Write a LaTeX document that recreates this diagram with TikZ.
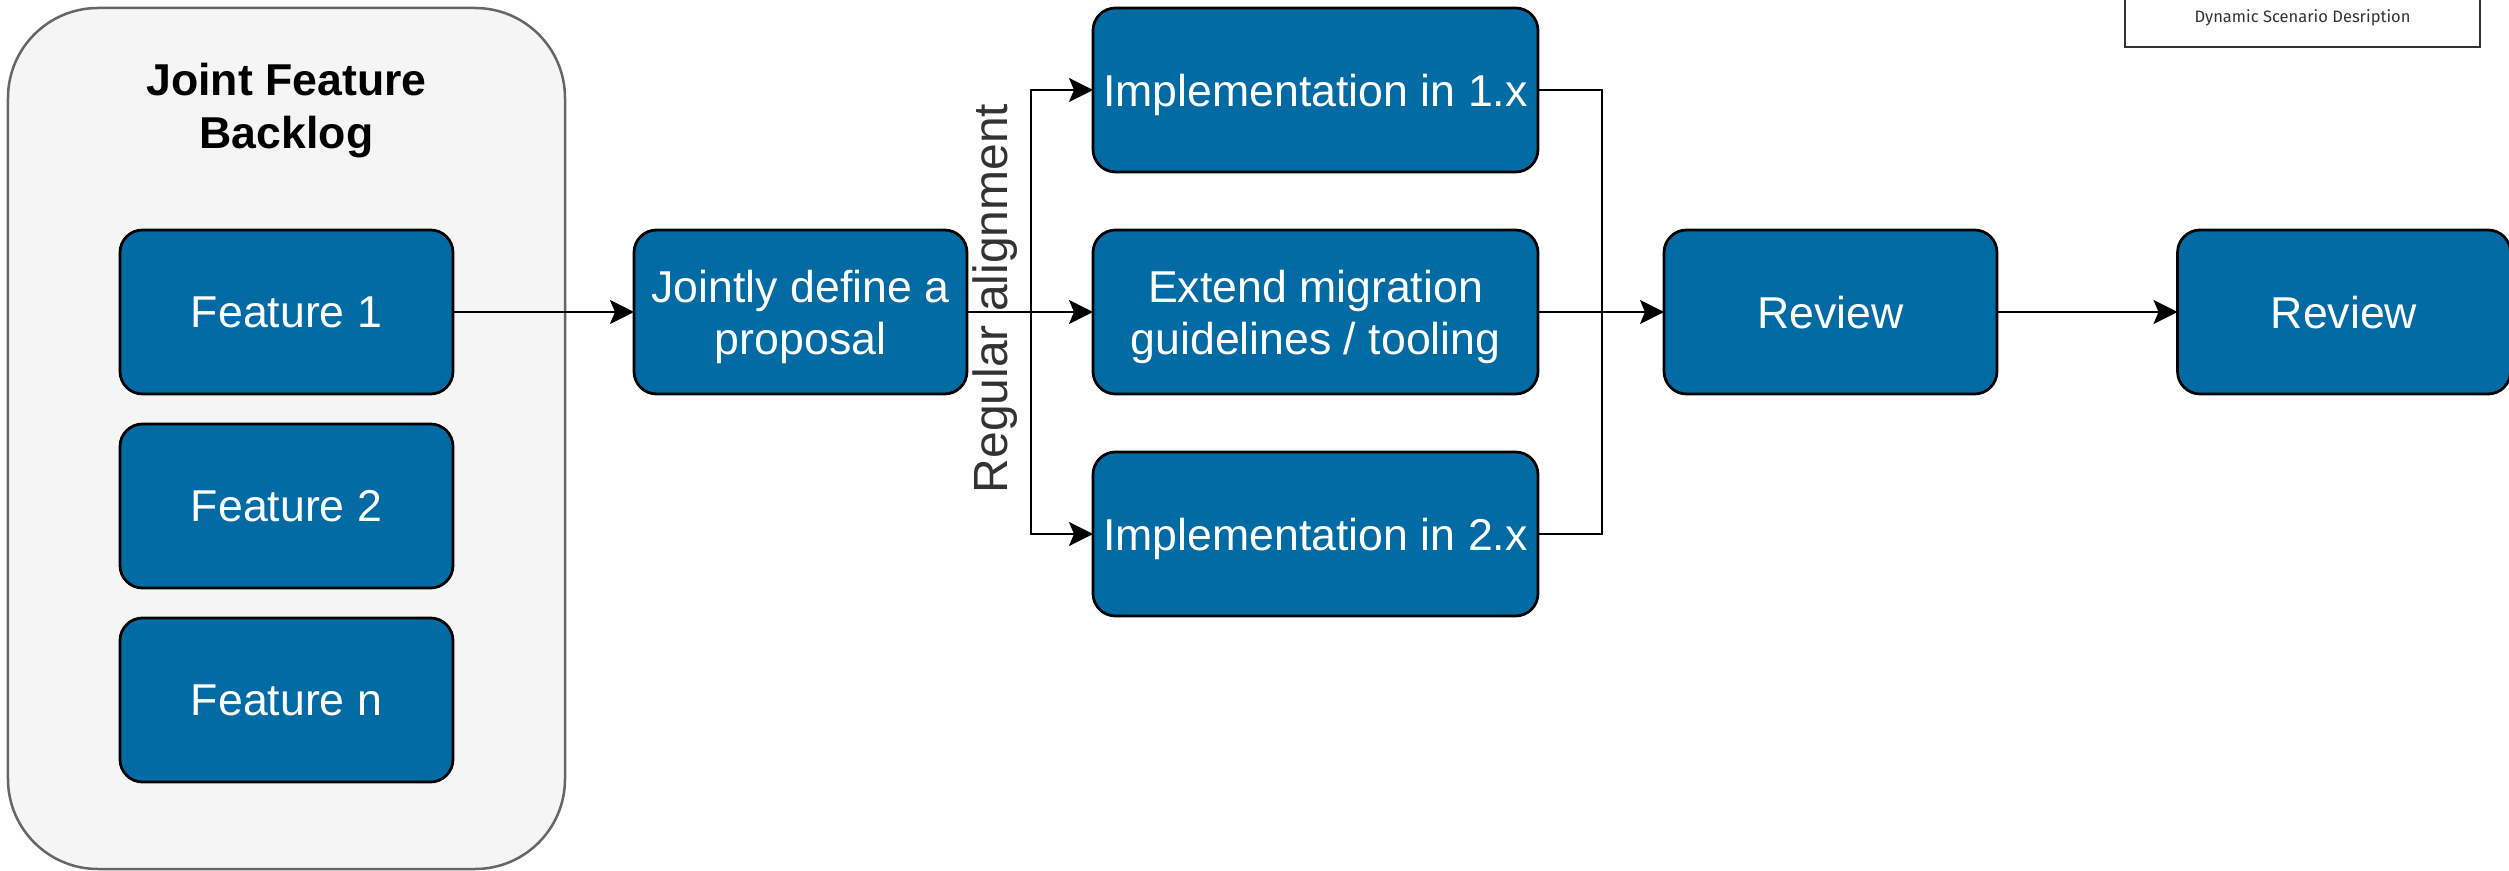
\documentclass[tikz,border=0pt]{standalone}
\usepackage{fontspec}
\setmainfont{Liberation Sans}
\newfontfamily\legendfont{Fira Sans}
\usepackage{tikz}
\usetikzlibrary{arrows.meta,positioning}
\definecolor{taskblue}{HTML}{036BA3}
\definecolor{backloggrey}{HTML}{F5F5F5}
\definecolor{rimgrey}{HTML}{666666}
\definecolor{labelgrey}{HTML}{333333}

\begin{document}
\begin{tikzpicture}[
      task/.style={rectangle, rounded corners=0.45cm, draw=black, line width=0.055cm, fill=taskblue, text=white, minimum width=6.66cm, minimum height=3.28cm, inner sep=0pt, outer sep=0pt, text depth=0pt, align=center, font=\fontsize{25.4}{29.6}\selectfont},
      wide/.style={minimum width=8.9cm},
      linie/.style={line width=0.05cm},
      pfeil/.style={linie, -{Stealth[length=0.48cm, width=0.48cm, inset=0.1cm]}}]

\useasboundingbox (0,0) rectangle (50.18,-17.42);

% backlog container
\node[rectangle, rounded corners=1.8cm, draw=rimgrey, line width=0.05cm, fill=backloggrey, minimum width=11.14cm, minimum height=17.22cm] (backlog) at (5.73,-8.77) {};
\node[align=center, text depth=0pt, font=\fontsize{25.4}{30.4}\selectfont\bfseries] (title) at (5.73,-2.12) {Joint Feature\\Backlog};

\node[task] (f1) at (5.73,-6.24) {Feature 1};
\node[task, below=0.6cm of f1] (f2) {Feature 2};
\node[task, below=0.6cm of f2] (fn) {Feature n};

\node[task, right=3.62cm of f1] (prop) {Jointly define a\\proposal};
\node[task, wide, right=2.52cm of prop] (ext) {Extend migration\\guidelines / tooling};
\node[task, wide, above=1.16cm of ext] (impl1) {Implementation in 1.x};
\node[task, wide, below=1.16cm of ext] (impl2) {Implementation in 2.x};
\node[task, right=2.52cm of ext] (rev1) {Review};
\node[task, right=3.61cm of rev1] (rev2) {Review};

\coordinate (split) at (20.62,-6.24);
\coordinate (join) at (32.04,-6.24);

\draw[pfeil] (f1) -- (prop);
\draw[linie] (prop) -- (split);
\draw[pfeil] (split) |- (impl1);
\draw[pfeil] (split) -- (ext);
\draw[pfeil] (split) |- (impl2);
\draw[linie] (impl1) -| (join);
\draw[linie] (impl2) -| (join);
\draw[pfeil] (ext) -- (rev1);
\draw[pfeil] (rev1) -- (rev2);

\node[rotate=90, text=labelgrey, font=\fontsize{27.3}{30}\selectfont] (align) at (19.9,-5.97) {Regular alignment};

% legend
\node[rectangle, draw=labelgrey, line width=0.04cm, minimum width=7.1cm, minimum height=1.16cm, text=labelgrey, font=\legendfont\fontsize{9.4}{11}\selectfont] (legend) at (46.05,-0.36) {Dynamic Scenario Desription};

\end{tikzpicture}
\end{document}
